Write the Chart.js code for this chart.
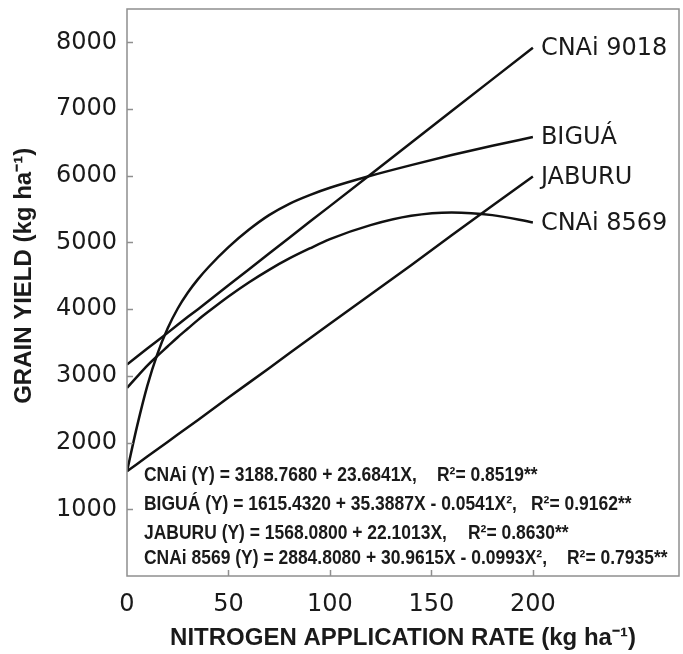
<!DOCTYPE html>
<html>
<head>
<meta charset="utf-8">
<script src="https://cdn.jsdelivr.net/npm/chart.js@4.4.1/dist/chart.umd.min.js"></script>
<style>
    html, body { margin: 0; padding: 0; background: #fff; }
    #yieldChart { display: block; }
</style>
</head>
<body>
<canvas id="yieldChart" width="683" height="654"></canvas>
<script>
// N rates (kg/ha) and grain yield (kg/ha)
const nitrogenRates = [0, 5, 10, 15, 20, 25, 30, 35, 40, 50, 60, 70, 80, 90, 100, 120, 140, 160, 180, 200];
const yieldCnai9018 = [3170, 3290, 3410, 3525, 3645, 3765, 3885, 4000, 4120, 4360, 4595, 4835, 5070, 5310, 5545, 6020, 6495, 6970, 7445, 7920];
const yieldBigua = [1570, 2250, 2850, 3330, 3710, 4010, 4250, 4450, 4625, 4930, 5190, 5410, 5580, 5710, 5820, 6000, 6160, 6310, 6450, 6580];
const yieldJaburu = [1570, 1680, 1790, 1900, 2010, 2120, 2230, 2340, 2450, 2675, 2895, 3115, 3340, 3560, 3780, 4220, 4660, 5110, 5550, 5990];
const yieldCnai8569 = [2820, 2990, 3155, 3300, 3440, 3580, 3710, 3840, 3960, 4190, 4400, 4590, 4760, 4910, 5050, 5260, 5400, 5450, 5410, 5300];

const seriesNames = ["CNAi 9018", "BIGUÁ", "JABURU", "CNAi 8569"];
const xTickValues = [0, 50, 100, 150, 200];
const yTickValues = [1000, 2000, 3000, 4000, 5000, 6000, 7000, 8000];

const equationLeft = [
    "CNAi (Y) = 3188.7680 + 23.6841X,",
    "BIGUÁ (Y) = 1615.4320 + 35.3887X - 0.0541X²,",
    "JABURU (Y) = 1568.0800 + 22.1013X,",
    "CNAi 8569 (Y) = 2884.8080 + 30.9615X - 0.0993X²,",
];
const equationR2 = ["R²= 0.8519**", "R²= 0.9162**", "R²= 0.8630**", "R²= 0.7935**"];

const inkColor = "#1a1a1a";
const frameColor = "#8f8f8f";

const makeSeries = (values) => values.map((v, i) => ({ x: nitrogenRates[i], y: v }));

const curveStyle = (name, values, curved) => ({
    label: name,
    data: makeSeries(values),
    borderColor: "#111",
    borderWidth: 2.5,
    pointRadius: 0,
    fill: false,
    tension: curved ? 0.4 : 0,
    cubicInterpolationMode: curved ? "monotone" : "default",
});

// gray box round the plot area plus inward tick marks
const framePlugin = {
    id: "frame",
    afterDraw(chart) {
        const { ctx, chartArea, scales } = chart;
        ctx.save();
        ctx.strokeStyle = frameColor;
        ctx.lineWidth = 1.5;
        ctx.strokeRect(chartArea.left, chartArea.top, chartArea.right - chartArea.left, chartArea.bottom - chartArea.top);
        ctx.beginPath();
        yTickValues.forEach((v) => {
            const y = Math.round(scales.y.getPixelForValue(v)) + 0.5;
            ctx.moveTo(chartArea.left, y);
            ctx.lineTo(chartArea.left + 6, y);
        });
        xTickValues.slice(1).forEach((v) => {
            const x = Math.round(scales.x.getPixelForValue(v)) + 0.5;
            ctx.moveTo(x, chartArea.bottom);
            ctx.lineTo(x, chartArea.bottom - 6);
        });
        ctx.stroke();
        ctx.restore();
    },
};

// cultivar names at the right end of each curve
const namePlugin = {
    id: "names",
    afterDatasetsDraw(chart) {
        const { ctx, scales } = chart;
        ctx.save();
        ctx.font = '24px "DejaVu Sans", sans-serif';
        ctx.fillStyle = inkColor;
        ctx.textBaseline = "middle";
        chart.data.datasets.forEach((ds) => {
            const last = ds.data[ds.data.length - 1];
            ctx.fillText(ds.label, scales.x.getPixelForValue(last.x) + 8, scales.y.getPixelForValue(last.y) + 1);
        });
        ctx.restore();
    },
};

// regression equations, condensed bold type
const equationPlugin = {
    id: "equations",
    afterDatasetsDraw(chart) {
        const { ctx, chartArea } = chart;
        const baselines = [481, 510, 539, 564];
        const r2Starts = [437, 531, 468, 567];
        ctx.save();
        ctx.font = 'bold 19.5px "Liberation Sans", Arial, sans-serif';
        ctx.fillStyle = inkColor;
        const squeeze = 403 / ctx.measureText(equationLeft[3]).width;
        const put = (text, x, y) => {
            ctx.save();
            ctx.translate(x, y);
            ctx.scale(squeeze, 1);
            ctx.fillText(text, 0, 0);
            ctx.restore();
        };
        equationLeft.forEach((text, i) => {
            put(text, chartArea.left + 17, baselines[i]);
            put(equationR2[i], r2Starts[i], baselines[i]);
        });
        ctx.restore();
    },
};

new Chart(document.getElementById("yieldChart").getContext("2d"), {
    type: "line",
    data: {
        datasets: [
            curveStyle(seriesNames[0], yieldCnai9018, false),
            curveStyle(seriesNames[1], yieldBigua, true),
            curveStyle(seriesNames[2], yieldJaburu, false),
            curveStyle(seriesNames[3], yieldCnai8569, true),
        ],
    },
    options: {
        responsive: false,
        animation: false,
        devicePixelRatio: 1,
        layout: { padding: { top: 9, right: 4, left: 0, bottom: 0 } },
        plugins: {
            legend: { display: false },
            tooltip: { enabled: false },
        },
        scales: {
            x: {
                type: "linear",
                min: 0,
                max: 272,
                grid: { display: false, drawTicks: false },
                border: { display: false },
                afterBuildTicks: (scale) => {
                    scale.ticks = xTickValues.map((v) => ({ value: v }));
                },
                afterFit: (scale) => {
                    scale.height = 78;
                    scale.paddingLeft = 0;
                    scale.paddingRight = 0;
                },
                ticks: {
                    padding: 14,
                    color: inkColor,
                    font: { family: "DejaVu Sans", size: 24 },
                    maxRotation: 0,
                    callback: (v) => String(v),
                },
                title: {
                    display: true,
                    text: "NITROGEN APPLICATION RATE (kg ha⁻¹)",
                    color: inkColor,
                    font: { family: "Liberation Sans", size: 24, weight: "bold" },
                    padding: { top: 0, bottom: 1 },
                },
            },
            y: {
                min: 0,
                max: 8500,
                grid: { display: false, drawTicks: false },
                border: { display: false },
                afterBuildTicks: (scale) => {
                    scale.ticks = yTickValues.map((v) => ({ value: v }));
                },
                afterFit: (scale) => {
                    scale.width = 127;
                    scale.paddingTop = 0;
                    scale.paddingBottom = 0;
                },
                ticks: {
                    padding: 10,
                    color: inkColor,
                    font: { family: "DejaVu Sans", size: 24 },
                    callback: (v) => String(v),
                },
                title: {
                    display: true,
                    // leading spaces nudge the title up, as in the original
                    text: "\u00a0\u00a0\u00a0\u00a0\u00a0GRAIN YIELD (kg ha⁻¹)",
                    color: inkColor,
                    font: { family: "Liberation Sans", size: 24, weight: "bold" },
                    padding: { top: 10, bottom: 0 },
                },
            },
        },
    },
    plugins: [framePlugin, namePlugin, equationPlugin],
});
</script>
</body>
</html>
